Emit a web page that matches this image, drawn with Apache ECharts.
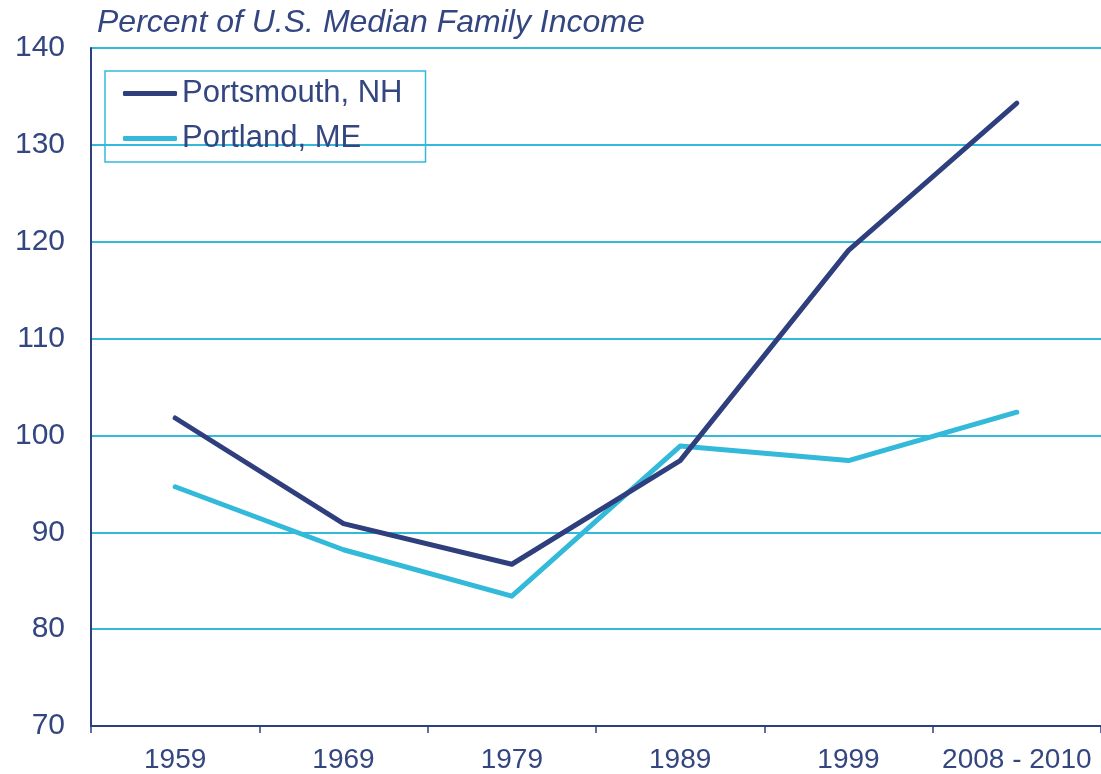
<!DOCTYPE html>
<html>
<head>
<meta charset="utf-8">
<script src="https://cdn.jsdelivr.net/npm/echarts@6/dist/echarts.min.js"></script>
<style>
  html, body { margin: 0; padding: 0; background: #fff; }
  #chart { width: 1101px; height: 774px; }
</style>
</head>
<body>
<div id="chart"></div>
<script>
// data
const years = ["1959", "1969", "1979", "1989", "1999", "2008 - 2010"];
const portsmouth = [101.8, 90.9, 86.7, 97.4, 119.1, 134.3];
const portland = [94.7, 88.2, 83.4, 98.9, 97.4, 102.4];
const yTicks = [70, 80, 90, 100, 110, 120, 130, 140];

const navy = "#2f3f7e";
const cyan = "#33b9da";
const textColor = "#34467f";
const font = "'Liberation Sans', Arial, sans-serif";

const chart = echarts.init(document.getElementById("chart"));
chart.setOption({
    animation: false,
    title: {
        text: "Percent of U.S. Median Family Income",
        left: 92,
        top: 2,
        textStyle: {
            color: textColor,
            fontFamily: font,
            fontStyle: "italic",
            fontWeight: "normal",
            fontSize: 32
        }
    },
    legend: {
        orient: "vertical",
        left: 105,
        top: 71,
        padding: [7, 23, 8, 18],
        borderColor: cyan,
        borderWidth: 1.5,
        icon: "roundRect",
        itemWidth: 54,
        itemHeight: 5,
        itemGap: 14,
        textStyle: {color: textColor, fontFamily: font, fontSize: 31, padding: [0, 0, 0, 0]},
        data: ["Portsmouth, NH", "Portland, ME"]
    },
    grid: {left: 91, right: -4, top: 48, bottom: 48},
    xAxis: {
        type: "category",
        data: years,
        boundaryGap: true,
        axisLine: {show: true, lineStyle: {color: navy, width: 2}},
        axisTick: {show: true, interval: 0, length: 7, lineStyle: {color: navy, width: 1.5}},
        axisLabel: {interval: 0, color: textColor, fontFamily: font, fontSize: 28, margin: 20}
    },
    yAxis: {
        type: "value",
        min: yTicks[0],
        max: yTicks[yTicks.length - 1],
        interval: 10,
        axisLine: {show: true, lineStyle: {color: navy, width: 2}},
        axisTick: {show: false},
        splitLine: {show: true, lineStyle: {color: cyan, width: 2}},
        axisLabel: {color: textColor, fontFamily: font, fontSize: 30, margin: 26}
    },
    series: [
        {
            name: "Portsmouth, NH",
            type: "line",
            data: portsmouth,
            symbol: "none",
            color: navy,
            lineStyle: {width: 5, color: navy, cap: "round", join: "round"},
            z: 3
        },
        {
            name: "Portland, ME",
            type: "line",
            data: portland,
            symbol: "none",
            color: cyan,
            lineStyle: {width: 5, color: cyan, cap: "round", join: "round"},
            z: 2
        }
    ]
});
</script>
</body>
</html>
